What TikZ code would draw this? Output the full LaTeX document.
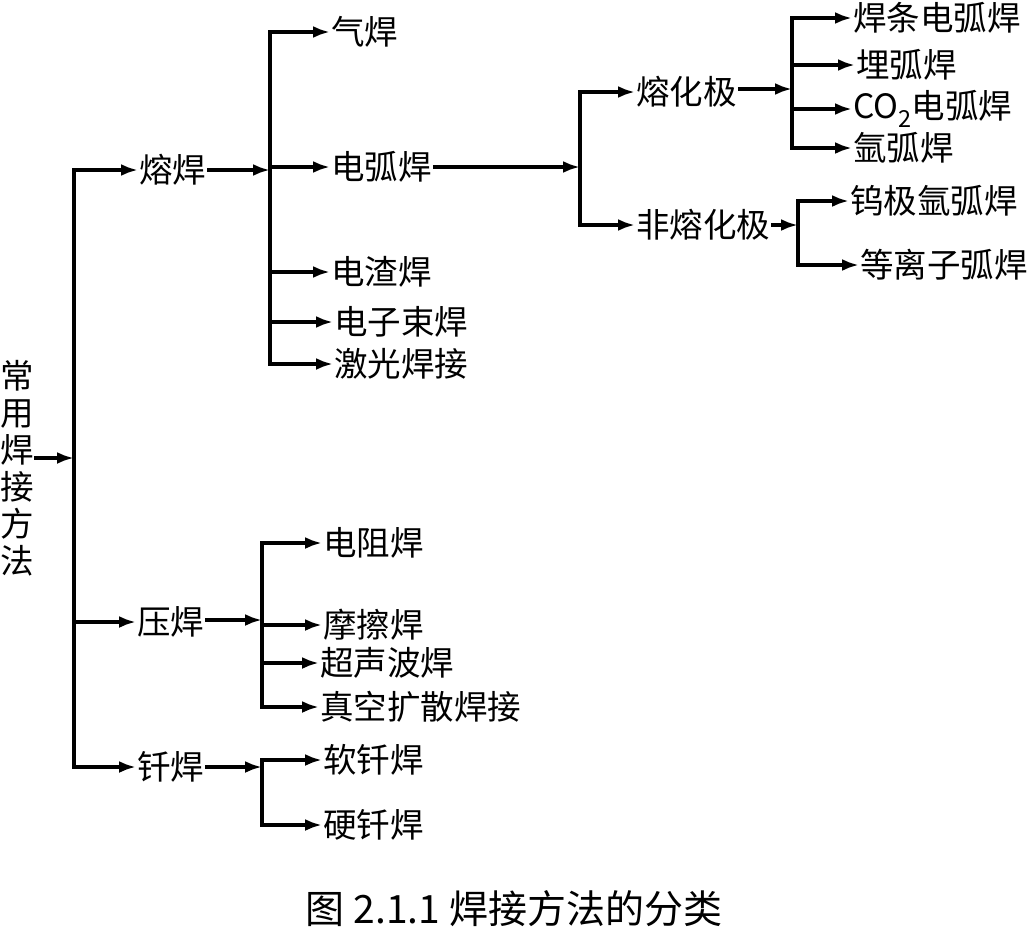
\documentclass[tikz,border=0pt]{standalone}
\usepackage{fontspec}
\setmainfont{Noto Sans CJK SC}
\usetikzlibrary{arrows.meta}

\begin{document}
\begin{tikzpicture}[
  x=1pt, y=-1pt,
  every node/.style={inner sep=1pt, font=\fontsize{33.5}{37}\selectfont},
  arr/.style={line width=4pt, -{Latex[length=17pt, width=12pt]}},
]
\useasboundingbox (0,0) rectangle (1031,929);

% level 0
\node[align=center, inner sep=0pt] (root) at (17,468) {常\\用\\焊\\接\\方\\法};
\coordinate (t0) at (74,458);

% level 1
\node[anchor=west] (rh) at (138,170) {熔焊};
\node[anchor=west] (yh) at (136,622) {压焊};
\node[anchor=west] (qh) at (136,767) {钎焊};
\coordinate (t1) at (270,170);
\coordinate (t2) at (262,620);
\coordinate (t3) at (262,767);

% fusion welding
\node[anchor=west] (gas)  at (330,32)  {气焊};
\node[anchor=west] (arc)  at (330,167) {电弧焊};
\node[anchor=west] (esw)  at (330,272) {电渣焊};
\node[anchor=west] (ebw)  at (333,322) {电子束焊};
\node[anchor=west] (lbw)  at (333,364) {激光焊接};
\coordinate (t4) at (580,167);

% arc welding
\node[anchor=west] (gmaw) at (635,92)  {熔化极};
\node[anchor=west] (gtaw) at (635,225) {非熔化极};
\coordinate (t5) at (792,89);
\coordinate (t6) at (798,225);
\node[anchor=west] (smaw) at (852,18)  {焊条电弧焊};
\node[anchor=west] (saw)  at (855,65)  {埋弧焊};
\node[anchor=west] (co2)  at (852,109) {CO\textsubscript{2}电弧焊};
\node[anchor=west] (ar)   at (852,148) {氩弧焊};
\node[anchor=west] (tig)  at (849,201) {钨极氩弧焊};
\node[anchor=west] (paw)  at (859,265) {等离子弧焊};

% pressure welding
\node[anchor=west] (rw)   at (322,543) {电阻焊};
\node[anchor=west] (fw)   at (322,625) {摩擦焊};
\node[anchor=west] (uw)   at (319,663) {超声波焊};
\node[anchor=west] (dw)   at (319,707) {真空扩散焊接};

% brazing
\node[anchor=west] (sb)   at (322,760) {软钎焊};
\node[anchor=west] (hb)   at (322,825) {硬钎焊};

% caption
\node[font=\fontsize{39}{42}\selectfont] (cap) at (514,909) {图\ 2.1.1\ 焊接方法的分类};

% connectors
\draw[arr] (root.east |- t0) -- (t0);
\draw[arr] (t0) |- (rh.west);
\draw[arr] (t0) |- (yh.west);
\draw[arr] (t0) |- (qh.west);

\draw[arr] (rh.east) -- (t1);
\foreach \c in {gas,arc,esw,ebw,lbw}
  \draw[arr] (t1) |- (\c.west);

\draw[arr] (arc.east) -- (t4);
\draw[arr] (t4) |- (gmaw.west);
\draw[arr] (t4) |- (gtaw.west);

\draw[arr] (gmaw.east |- t5) -- (t5);
\foreach \c in {smaw,saw,co2,ar}
  \draw[arr] (t5) |- (\c.west);

\draw[arr] (gtaw.east) -- (t6);
\foreach \c in {tig,paw}
  \draw[arr] (t6) |- (\c.west);

\draw[arr] (yh.east |- t2) -- (t2);
\foreach \c in {rw,fw,uw,dw}
  \draw[arr] (t2) |- (\c.west);

\draw[arr] (qh.east) -- (t3);
\foreach \c in {sb,hb}
  \draw[arr] (t3) |- (\c.west);
\end{tikzpicture}
\end{document}
